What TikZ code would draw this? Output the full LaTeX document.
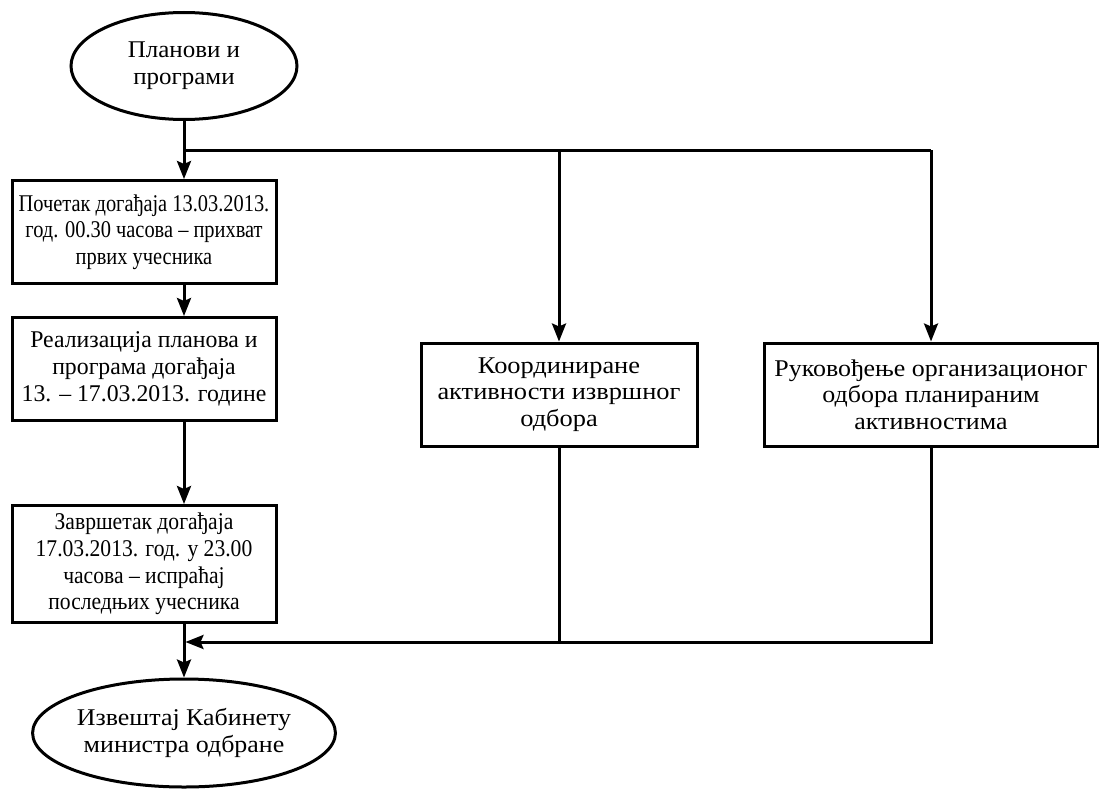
\documentclass[tikz,border=0pt]{standalone}
\usepackage{fontspec}
\setmainfont{Liberation Serif}
\usetikzlibrary{shapes.geometric,arrows.meta}
\begin{document}
\begin{tikzpicture}[x=1pt,y=-1pt,
  sx/.style={font=\fontsize{24}{26.7}\selectfont\addfontfeatures{FakeStretch=#1}},
  txt/.style={align=center, inner sep=0pt},
  box/.style={txt, draw, line width=3pt},
  oval/.style={txt, draw, ellipse, line width=3pt},
  ln/.style={line width=3pt},
  arr/.style={ln, -{Stealth[length=18pt,width=14pt,inset=3pt]}}]
\useasboundingbox (0,0) rectangle (1099,789);
\node[oval, sx=1.04, minimum width=226pt, minimum height=107pt] (plan) at (184,66) {Планови и\\програми};
\node[box, sx=0.85, minimum width=264pt, minimum height=103pt] (b1) at (144,232) {Почетак догађаја 13.03.2013.\\год. 00.30 часова – прихват\\првих учесника};
\node[box, sx=0.99, minimum width=264pt, minimum height=103pt] (b2) at (144,369) {Реализација планова и\\програма догађаја\\13. – 17.03.2013. године};
\node[box, sx=0.9, minimum width=264pt, minimum height=117pt] (b3) at (144,564) {Завршетак догађаја\\17.03.2013. год. у 23.00\\часова – испраћај\\последњих учесника};
\node[box, sx=1.1, minimum width=276pt, minimum height=103pt] (mid) at (559,394.5) {Координиране\\активности извршног\\одбора};
\node[box, sx=1.08, minimum width=334pt, minimum height=103pt] (rgt) at (931,394.5) {Руковођење организационог\\одбора планираним\\активностима};
\node[oval, sx=1.08, minimum width=302pt, minimum height=108pt] (rep) at (184,733) {Извештај Кабинету\\министра одбране};
\coordinate (j1) at (184,150);
\coordinate (j2) at (184,642);
\draw[arr] (plan.south) -- (plan.south |- b1.north);
\draw[ln] (j1) -- (rgt.north |- j1);
\draw[arr] (mid.north |- j1) -- (mid.north);
\draw[arr] (rgt.north |- j1) -- (rgt.north);
\draw[arr] (j1 |- b1.south) -- (j1 |- b2.north);
\draw[arr] (j1 |- b2.south) -- (j1 |- b3.north);
\draw[arr] (j1 |- b3.south) -- (rep.north);
\draw[ln] (mid.south) -- (mid.south |- j2);
\draw[ln] (rgt.south) |- (mid.south |- j2);
\draw[arr] (mid.south |- j2) -- ([xshift=1.5pt]j2);
\end{tikzpicture}
\end{document}
